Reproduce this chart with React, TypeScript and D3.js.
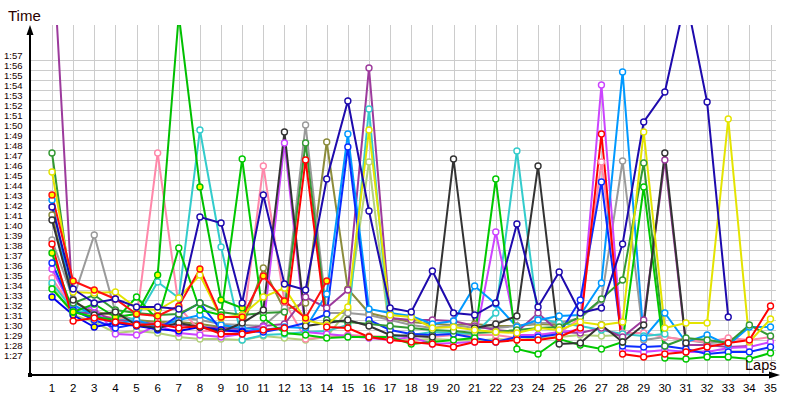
import React from "react";
import * as d3 from "d3";

// Lap numbers (x categories)
const laps = [1, 2, 3, 4, 5, 6, 7, 8, 9, 10, 11, 12, 13, 14, 15, 16, 17, 18, 19, 20, 21, 22, 23, 24, 25, 26, 27, 28, 29, 30, 31, 32, 33, 34, 35];
// Y ticks in seconds (1:27 .. 1:57)
const timeTicks = [87, 88, 89, 90, 91, 92, 93, 94, 95, 96, 97, 98, 99, 100, 101, 102, 103, 104, 105, 106, 107, 108, 109, 110, 111, 112, 113, 114, 115, 116, 117];

// Lap times in seconds, index 0 = lap 1
const darkblueTimes = [102.3, 94.1, 92.7, 93.1, 92.3, 92.3, 92.1, 101.3, 100.7, 92.7, 103.5, 94.6, 94.0, 105.1, 112.9, 101.9, 92.2, 91.8, 95.9, 91.7, 91.5, 92.7, 100.6, 92.3, 95.8, 91.7, 92.2, 98.6, 110.8, 113.8, 123.3, 112.8, 91.3];
const redYTimes = [103.5, 94.9, 94.0, 93.1, 91.6, 91.4, 92.4, 96.1, 91.3, 91.3, 95.4, 92.9, 91.2, 94.9];
const redTimes = [98.6, 90.9, 91.2, 90.8, 90.5, 90.6, 90.2, 90.4, 89.6, 89.6, 90.0, 90.2, 107.0, 90.3, 90.2, 89.3, 89.0, 88.8, 88.6, 88.3, 88.8, 88.8, 89.0, 89.0, 89.3, 90.2, 109.6, 87.6, 87.3, 87.6, 87.8, 88.3, 88.7, 89.0, 92.4];
const yellowTimes = [105.8, 93.8, 93.7, 93.8, 92.2, 92.0, 93.2, 95.5, 91.2, 91.5, 93.3, 94.2, 91.0, 90.5, 92.3, 110.0, 91.5, 91.3, 90.2, 90.3, 90.0, 89.8, 89.7, 90.2, 90.0, 90.8, 90.5, 90.8, 109.8, 90.2, 90.7, 90.7, 111.1, 88.8, 91.1];
const green1Times = [97.7, 91.8, 92.6, 91.3, 91.6, 95.5, 121.5, 104.3, 93.0, 92.2];
const green2Times = [94.1, 91.8, 91.3, 91.0, 93.3, 91.0, 98.2, 92.0, 91.5, 107.1, 91.2, 89.7, 89.5, 89.2, 89.3, 89.3, 89.3, 88.6, 88.8, 89.0, 89.2, 105.1, 88.1, 87.6, 89.1, 88.5, 88.1, 88.8, 104.3, 87.2, 87.1, 87.3, 87.3, 87.1, 87.7];
const darkgreenTimes = [107.7, 92.7, 93.5, 92.0, 91.7, 91.5, 91.6, 92.7, 91.8, 91.5, 91.7, 91.8, 108.7, 91.0, 90.8, 90.6, 90.4, 90.2, 90.0, 89.9, 89.7, 89.8, 90.0, 90.2, 90.3, 91.3, 93.1, 95.0, 106.7, 88.4, 89.2, 89.0, 88.7, 90.5, 89.4];
const blueTimes = [96.7, 92.0, 91.0, 90.2, 90.6, 90.0, 91.5, 92.7, 90.0, 89.9, 89.8, 90.2, 90.7, 91.6, 108.3, 91.0, 90.0, 89.6, 89.5, 89.6, 89.2, 88.8, 89.3, 89.3, 89.6, 93.0, 104.8, 88.4, 88.3, 88.4, 88.1, 87.6, 87.8, 87.8, 88.3];
const blueYTimes = [93.3, 91.5, 90.3, 90.7, 90.4, 90.1, 89.9, 90.3, 90.0, 89.8];
const lightblueTimes = [103.0, 92.5, 91.5, 90.6, 91.0, 90.3, 91.0, 91.5, 90.5, 90.2, 90.0, 90.3, 90.2, 93.6, 109.6, 92.1, 91.7, 91.4, 90.6, 90.9, 94.4, 92.6, 90.3, 91.0, 91.4, 91.5, 94.7, 115.8, 89.2, 91.7, 88.8, 89.5, 88.5, 90.3, 90.3];
const cyanTimes = [94.7, 92.0, 91.6, 90.9, 91.2, 94.8, 93.2, 110.0, 98.3, 89.0, 89.5, 89.6, 89.8, 89.9, 90.5, 112.1, 89.3, 89.5, 89.8, 89.7, 89.6, 91.7, 107.9, 91.2, 90.7, 90.4, 90.0, 89.6, 89.4, 89.6];
const pinkTimes = [95.2, 92.0, 91.5, 91.2, 91.0, 107.7, 92.3, 89.9, 89.9, 89.8, 106.4, 92.8, 89.1, 89.3, 89.5, 89.4, 89.3, 89.5, 89.3, 89.5, 89.5, 89.5, 89.2, 89.5, 89.7, 91.2, 106.8, 89.7, 89.7, 89.3, 89.0, 88.8, 89.2, 89.0, 89.3];
const purpleTimes = [129.5, 91.7, 91.7, 91.0, 90.8, 90.6, 90.5, 90.3, 90.2, 90.1, 90.4, 90.6, 93.3, 92.2, 94.0, 116.2, 91.2, 91.0, 91.0, 90.9, 90.4, 90.0, 89.8, 91.7, 89.8, 89.7, 90.2, 89.3, 91.0, 107.0, 88.5, 88.5, 88.3, 88.4];
const magentaTimes = [96.1, 92.0, 92.3, 89.6, 89.5, 90.5, 89.7, 89.5, 89.3, 89.6, 90.3, 108.7, 89.8, 89.6, 89.4, 89.2, 89.0, 89.3, 88.6, 88.7, 88.8, 99.8, 89.5, 89.5, 89.8, 90.0, 114.5, 88.0, 87.8, 88.0, 87.8, 87.8, 88.2, 88.3, 88.8];
const grayTimes = [99.0, 93.1, 99.5, 91.8, 90.8, 90.3, 91.3, 91.0, 90.6, 90.5, 90.4, 92.2, 110.5, 91.7, 91.7, 91.5, 91.0, 90.5, 90.2, 90.5, 90.2, 90.2, 90.4, 90.7, 90.7, 91.2, 93.0, 106.9, 89.0, 89.3, 89.0, 88.7, 88.8];
const darkgrayTimes = [101.0, 93.0, 91.5, 91.8, 90.5, 90.2, 90.7, 90.3, 89.8, 90.7, 92.0, 109.8, 90.4, 90.7, 91.0, 90.4, 89.5, 89.4, 89.3, 107.1, 90.2, 90.6, 91.4, 106.4, 88.6, 88.7, 90.5, 88.8, 90.5, 107.7, 88.7];
const oliveTimes = [101.5, 92.8, 91.8, 91.5, 91.0, 90.8, 90.8, 90.6, 90.3, 90.2, 96.2, 92.0, 92.7, 108.8, 94.1, 91.7, 91.2, 90.8, 90.6, 90.5, 90.6, 90.4, 90.4, 90.6, 90.5];
const yellowgreenTimes = [94.4, 91.5, 90.8, 89.7, 89.9, 89.7, 89.3, 89.1, 89.1, 89.0, 89.4, 89.2, 89.0, 89.3, 92.0, 106.8, 89.2, 89.0, 89.1, 89.0, 88.9, 89.1, 89.0, 89.2, 89.3, 89.5, 89.4, 89.5];

const seriesList: { key: string; values: number[] }[] = [
  { key: "yellowgreen", values: yellowgreenTimes },
  { key: "olive", values: oliveTimes },
  { key: "gray", values: grayTimes },
  { key: "pink", values: pinkTimes },
  { key: "cyan", values: cyanTimes },
  { key: "purple", values: purpleTimes },
  { key: "magenta", values: magentaTimes },
  { key: "lightblue", values: lightblueTimes },
  { key: "blue", values: blueTimes },
  { key: "blueY", values: blueYTimes },
  { key: "darkgreen", values: darkgreenTimes },
  { key: "green2", values: green2Times },
  { key: "green1", values: green1Times },
  { key: "darkgray", values: darkgrayTimes },
  { key: "yellow", values: yellowTimes },
  { key: "red", values: redTimes },
  { key: "redY", values: redYTimes },
  { key: "darkblue", values: darkblueTimes },
];

const seriesColor: Record<string, string> = {
  yellowgreen: "#b3d17a",
  olive: "#8c8c3c",
  gray: "#9a9a9a",
  pink: "#ff88aa",
  cyan: "#33cccc",
  purple: "#9c3a9c",
  magenta: "#cc44ff",
  lightblue: "#0099ff",
  blue: "#0a2cff",
  blueY: "#0000ee",
  darkgreen: "#339933",
  green2: "#00c800",
  green1: "#00c000",
  darkgray: "#333333",
  yellow: "#e4e400",
  red: "#ff0000",
  redY: "#ff1010",
  darkblue: "#1e0aad",
};
const yellowFilled: Record<string, boolean> = { redY: true, green1: true, blueY: true };

export default function App() {
  const x = d3.scaleLinear().domain([1, 35]).range([52, 770.5]);
  const y = d3.scaleLinear().domain([87, 117]).range([360, 60]);
  const line = d3
    .line<[number, number]>()
    .x((d) => x(d[0]))
    .y((d) => y(d[1]));
  const font = "'Liberation Sans', Arial, sans-serif";
  const axisX0 = 30;
  const axisY0 = 375;

  return (
    <div style={{ position: "absolute", left: 0, top: 0 }}>
      <svg width={800} height={400} style={{ display: "block", background: "#fff" }}>
        <defs>
          <clipPath id="plotClip">
            <rect x={30} y={25} width={752} height={350} />
          </clipPath>
        </defs>
        {/* grid */}
        <g stroke="#cccccc" strokeWidth={1}>
          {timeTicks.map((t) => (
            <line key={"h" + t} x1={axisX0} x2={776} y1={Math.round(y(t)) + 0.5} y2={Math.round(y(t)) + 0.5} />
          ))}
          {laps.map((l) => (
            <line key={"v" + l} x1={Math.round(x(l)) + 0.5} x2={Math.round(x(l)) + 0.5} y1={25} y2={axisY0} />
          ))}
        </g>
        {/* y tick labels */}
        <g fontFamily={font} fontSize={9.5} fill="#1a0000">
          {timeTicks.map((t) => (
            <text key={"yl" + t} x={4} y={y(t) - 1.5}>
              {`1:${t - 60}`}
            </text>
          ))}
        </g>
        {/* x tick labels */}
        <g fontFamily={font} fontSize={11.5} fill="#000" textAnchor="middle">
          {laps.map((l) => (
            <text key={"xl" + l} x={x(l)} y={392}>
              {l}
            </text>
          ))}
        </g>
        {/* series */}
        <g clipPath="url(#plotClip)">
          {seriesList.map((s) => {
            const pts: [number, number][] = s.values.map((v, i) => [laps[i], v]);
            return (
              <g key={s.key}>
                <path
                  d={line(pts) || ""}
                  fill="none"
                  stroke={seriesColor[s.key]}
                  strokeWidth={2}
                  strokeLinejoin="miter"
                  strokeMiterlimit={5}
                />
              </g>
            );
          })}
          {seriesList.map((s) => (
            <g key={"m" + s.key}>
              {s.values.map((v, i) => (
                <circle
                  key={i}
                  cx={x(laps[i])}
                  cy={y(v)}
                  r={3}
                  fill={yellowFilled[s.key] ? "#ffff00" : "#ffffff"}
                  stroke={seriesColor[s.key]}
                  strokeWidth={1.4}
                />
              ))}
            </g>
          ))}
        </g>
        {/* axes */}
        <line x1={axisX0} x2={axisX0} y1={axisY0} y2={32} stroke="#000" strokeWidth={2} />
        <path d={`M${axisX0},25 L${axisX0 - 3.5},35 L${axisX0 + 3.5},35 Z`} fill="#000" />
        <line x1={axisX0} x2={772} y1={axisY0} y2={axisY0} stroke="#000" strokeWidth={2} />
        <path d={`M780,${axisY0} L769,${axisY0 - 3.5} L769,${axisY0 + 3.5} Z`} fill="#000" />
        <rect x={28} y={373} width={4} height={4} fill="#000" />
        <text x={8} y={21} fontFamily={font} fontSize={15} fill="#2a0000">
          Time
        </text>
        <text x={745} y={370} fontFamily={font} fontSize={14.5} fill="#1a0000">
          Laps
        </text>
      </svg>
    </div>
  );
}
